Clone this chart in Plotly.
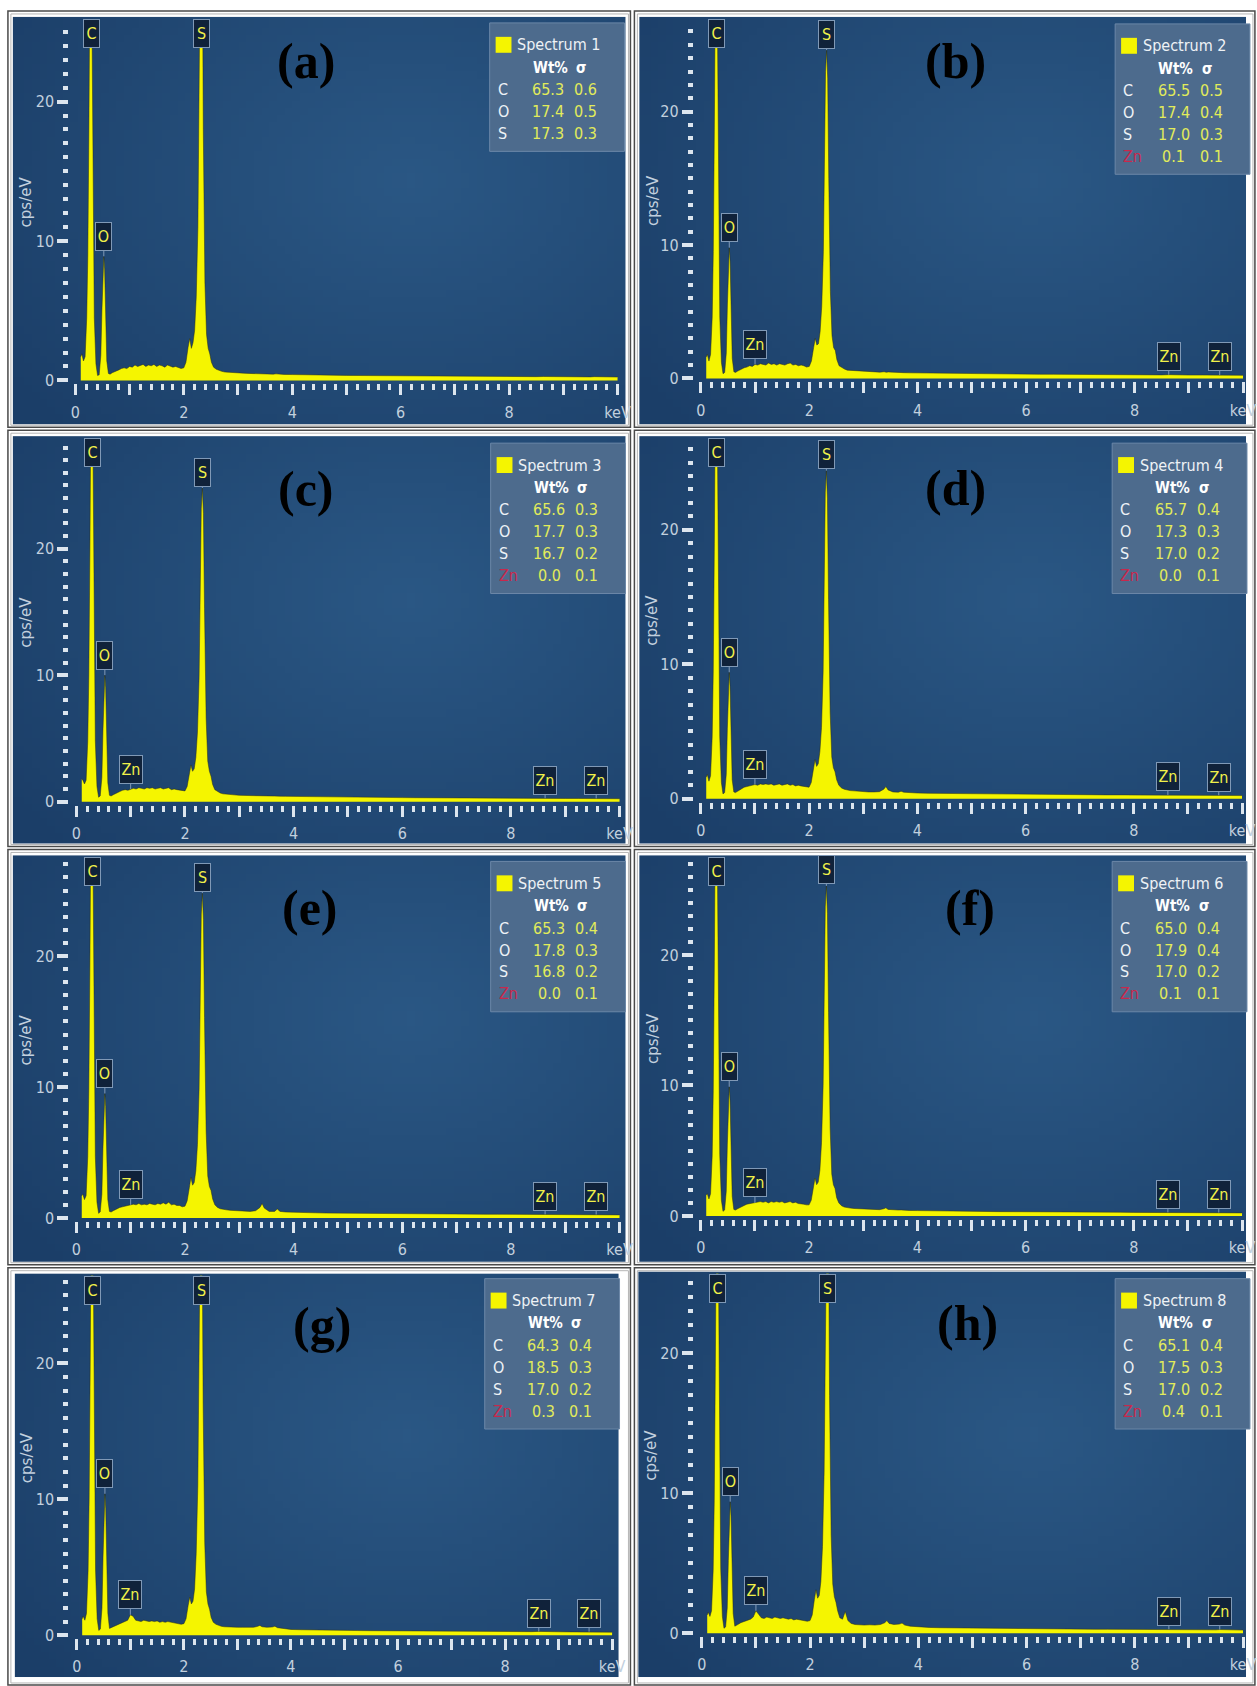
import base64, struct, zlib
import plotly.graph_objects as go

# ---------------------------------------------------------------- data
energy_keV = [
    0.10, 0.12, 0.15, 0.18, 0.21, 0.23, 0.25, 0.265, 0.28, 0.295,
    0.31, 0.33, 0.35, 0.38, 0.41, 0.44, 0.47, 0.49, 0.51, 0.525,
    0.54, 0.56, 0.58, 0.61, 0.64, 0.68, 0.72, 0.76, 0.80, 0.85,
    0.90, 0.95, 1.00, 1.05, 1.10, 1.15, 1.20, 1.25, 1.30, 1.35,
    1.40, 1.45, 1.50, 1.55, 1.60, 1.65, 1.70, 1.75, 1.80, 1.85,
    1.90, 1.95, 2.00, 2.04, 2.08, 2.11, 2.14, 2.17, 2.20, 2.23,
    2.26, 2.28, 2.30, 2.32, 2.34, 2.36, 2.39, 2.42, 2.45, 2.48,
    2.51, 2.55, 2.60, 2.65, 2.70, 2.76, 2.83, 2.90, 3.00, 3.10,
    3.20, 3.30, 3.38, 3.42, 3.46, 3.55, 3.65, 3.70, 3.75, 3.85,
    4.00, 4.20, 4.40, 4.60, 4.80, 5.00, 5.25, 5.50, 5.75, 6.00,
    6.25, 6.50, 6.75, 7.00, 7.25, 7.50, 7.75, 8.00, 8.25, 8.50,
    8.63, 8.75, 9.00, 9.25, 9.50, 9.57, 9.70, 9.85, 10.00,
]

counts_a = [
    1.7, 1.9, 1.4, 1.7, 4.5, 9.0, 18.0, 30.0, 36.0, 35.0,
    24.0, 12.0, 4.5, 1.2, 0.35, 0.40, 1.8, 5.0, 8.2, 8.9,
    8.0, 4.0, 1.4, 0.50, 0.45, 0.55, 0.60, 0.70, 0.75, 0.85,
    0.90, 0.85, 1.00, 0.95, 1.10, 1.00, 1.05, 1.15, 1.00, 1.10,
    1.05, 1.15, 1.00, 1.10, 1.05, 0.95, 1.10, 1.00, 0.95, 1.00,
    0.90, 0.85, 0.90, 1.30, 2.40, 3.00, 2.30, 2.70, 3.60, 6.0,
    11.0, 19.0, 32.0, 38.0, 33.0, 18.0, 7.0, 3.3, 2.3, 1.9,
    1.30, 0.95, 0.80, 0.70, 0.65, 0.60, 0.58, 0.55, 0.50, 0.52,
    0.50, 0.48, 0.50, 0.47, 0.50, 0.46, 0.45, 0.47, 0.44, 0.43,
    0.42, 0.40, 0.40, 0.38, 0.37, 0.36, 0.35, 0.34, 0.34, 0.33,
    0.32, 0.32, 0.31, 0.30, 0.30, 0.29, 0.29, 0.28, 0.28, 0.27,
    0.28, 0.27, 0.26, 0.26, 0.25, 0.27, 0.25, 0.24, 0.24,
]
counts_b = [
    1.6, 1.8, 1.3, 1.8, 4.6, 9.5, 19.0, 31.0, 37.0, 36.0,
    25.0, 12.5, 4.6, 1.2, 0.35, 0.45, 1.9, 5.5, 9.1, 9.8,
    8.8, 4.4, 1.5, 0.50, 0.45, 0.55, 0.65, 0.70, 0.80, 0.85,
    0.95, 0.90, 1.05, 1.00, 1.10, 1.05, 1.00, 1.15, 1.05, 1.10,
    1.00, 1.10, 1.05, 1.00, 1.10, 1.15, 1.00, 1.05, 0.95, 1.00,
    0.95, 0.85, 0.90, 1.30, 2.30, 3.00, 2.50, 2.60, 3.50, 5.4,
    9.5, 16.0, 23.0, 24.6, 22.5, 15.0, 6.5, 3.2, 2.3, 2.1,
    1.40, 0.95, 0.80, 0.70, 0.62, 0.60, 0.57, 0.55, 0.52, 0.50,
    0.50, 0.47, 0.50, 0.46, 0.48, 0.45, 0.46, 0.44, 0.43, 0.42,
    0.41, 0.40, 0.38, 0.37, 0.36, 0.35, 0.34, 0.34, 0.33, 0.32,
    0.31, 0.31, 0.30, 0.29, 0.29, 0.28, 0.28, 0.27, 0.27, 0.26,
    0.28, 0.26, 0.25, 0.25, 0.24, 0.26, 0.24, 0.23, 0.23,
]
counts_c = [
    1.8, 1.7, 1.4, 1.7, 4.8, 10.0, 20.0, 33.0, 39.0, 38.0,
    26.0, 13.0, 4.8, 1.2, 0.35, 0.45, 1.9, 5.6, 9.3, 10.0,
    9.0, 4.5, 1.5, 0.50, 0.45, 0.55, 0.65, 0.75, 0.80, 0.90,
    0.95, 0.90, 1.00, 1.05, 1.00, 1.10, 1.05, 1.00, 1.10, 1.05,
    1.10, 1.00, 1.05, 1.10, 1.00, 1.05, 1.10, 0.95, 1.00, 0.95,
    0.90, 0.85, 0.85, 1.20, 2.20, 2.90, 2.40, 2.60, 3.50, 5.5,
    9.8, 16.5, 23.2, 24.8, 22.8, 15.3, 6.6, 3.2, 2.4, 2.0,
    1.35, 0.95, 0.78, 0.68, 0.62, 0.58, 0.56, 0.54, 0.50, 0.50,
    0.48, 0.47, 0.49, 0.46, 0.47, 0.45, 0.44, 0.45, 0.43, 0.42,
    0.41, 0.39, 0.38, 0.37, 0.36, 0.35, 0.34, 0.33, 0.33, 0.32,
    0.31, 0.30, 0.30, 0.29, 0.29, 0.28, 0.28, 0.27, 0.27, 0.26,
    0.27, 0.26, 0.25, 0.25, 0.24, 0.26, 0.24, 0.23, 0.23,
]
counts_d = [
    1.6, 1.8, 1.3, 1.7, 4.6, 9.5, 19.0, 31.0, 37.0, 36.0,
    25.0, 12.5, 4.6, 1.2, 0.35, 0.45, 1.8, 5.2, 8.7, 9.4,
    8.4, 4.2, 1.4, 0.50, 0.45, 0.55, 0.65, 0.75, 0.85, 0.90,
    0.95, 1.00, 1.05, 1.00, 1.10, 1.05, 1.10, 1.05, 1.10, 1.00,
    1.05, 1.10, 1.00, 1.05, 1.10, 1.00, 1.05, 0.95, 1.00, 0.95,
    0.90, 0.85, 0.85, 1.20, 2.20, 2.90, 2.40, 2.60, 3.50, 5.3,
    9.4, 15.8, 22.8, 24.4, 22.3, 14.8, 6.4, 3.1, 2.3, 2.0,
    1.40, 1.00, 0.80, 0.70, 0.64, 0.60, 0.58, 0.55, 0.52, 0.50,
    0.50, 0.52, 0.70, 0.90, 0.65, 0.50, 0.48, 0.55, 0.48, 0.44,
    0.42, 0.40, 0.39, 0.38, 0.37, 0.35, 0.34, 0.33, 0.33, 0.32,
    0.31, 0.31, 0.30, 0.29, 0.29, 0.28, 0.28, 0.27, 0.27, 0.26,
    0.28, 0.26, 0.25, 0.25, 0.24, 0.26, 0.24, 0.23, 0.23,
]
counts_e = [
    1.7, 1.8, 1.4, 1.7, 4.7, 9.8, 19.5, 32.0, 38.0, 37.0,
    25.5, 12.8, 4.7, 1.2, 0.35, 0.45, 1.8, 5.3, 8.8, 9.5,
    8.5, 4.2, 1.4, 0.50, 0.45, 0.55, 0.65, 0.70, 0.80, 0.85,
    0.90, 0.95, 1.00, 1.05, 1.00, 1.10, 1.00, 1.05, 1.00, 1.10,
    1.05, 1.00, 1.10, 1.05, 1.15, 1.05, 1.20, 1.00, 1.05, 0.95,
    0.95, 0.85, 0.90, 1.30, 2.30, 3.10, 2.50, 2.70, 3.60, 5.6,
    9.8, 16.5, 23.2, 24.8, 22.8, 15.3, 6.6, 3.2, 2.4, 2.1,
    1.45, 1.00, 0.80, 0.70, 0.65, 0.62, 0.58, 0.56, 0.52, 0.50,
    0.50, 0.55, 0.80, 1.10, 0.75, 0.50, 0.50, 0.68, 0.50, 0.45,
    0.42, 0.40, 0.39, 0.37, 0.36, 0.35, 0.34, 0.33, 0.33, 0.32,
    0.31, 0.30, 0.30, 0.29, 0.29, 0.28, 0.28, 0.27, 0.27, 0.26,
    0.27, 0.26, 0.25, 0.25, 0.24, 0.26, 0.24, 0.23, 0.23,
]
counts_f = [
    1.6, 1.7, 1.3, 1.7, 4.6, 9.6, 19.5, 32.0, 38.0, 37.0,
    25.0, 12.6, 4.7, 1.2, 0.35, 0.45, 1.9, 5.5, 9.2, 9.9,
    8.9, 4.4, 1.5, 0.50, 0.45, 0.55, 0.65, 0.75, 0.80, 0.90,
    0.95, 1.00, 1.00, 1.05, 1.10, 1.05, 1.10, 1.00, 1.10, 1.05,
    1.10, 1.05, 1.10, 1.00, 1.05, 1.10, 1.00, 1.05, 0.95, 0.95,
    0.90, 0.85, 0.85, 1.20, 2.20, 2.90, 2.40, 2.60, 3.50, 5.6,
    10.0, 17.0, 23.7, 25.3, 23.2, 15.6, 6.7, 3.2, 2.4, 2.1,
    1.40, 1.00, 0.78, 0.68, 0.62, 0.60, 0.57, 0.55, 0.52, 0.50,
    0.48, 0.48, 0.55, 0.62, 0.50, 0.46, 0.45, 0.46, 0.43, 0.42,
    0.41, 0.39, 0.38, 0.37, 0.36, 0.35, 0.34, 0.33, 0.33, 0.32,
    0.31, 0.30, 0.30, 0.29, 0.29, 0.28, 0.28, 0.27, 0.27, 0.26,
    0.27, 0.26, 0.25, 0.25, 0.24, 0.26, 0.24, 0.23, 0.23,
]
counts_g = [
    1.2, 1.4, 1.1, 1.6, 4.7, 10.0, 20.0, 33.0, 39.0, 38.0,
    26.0, 13.0, 4.8, 1.2, 0.35, 0.45, 2.0, 5.8, 9.7, 10.4,
    9.3, 4.7, 1.6, 0.50, 0.55, 0.65, 0.70, 0.75, 0.85, 0.90,
    1.00, 1.10, 1.50, 1.40, 1.10, 1.05, 1.00, 1.10, 1.05, 1.00,
    1.05, 1.00, 1.05, 0.95, 1.00, 0.95, 1.00, 0.95, 0.90, 0.90,
    0.85, 0.80, 0.85, 1.20, 2.20, 2.80, 2.30, 2.50, 3.40, 6.0,
    11.0, 19.0, 31.0, 36.0, 31.0, 17.0, 6.8, 3.2, 2.3, 1.9,
    1.30, 0.95, 0.80, 0.70, 0.65, 0.62, 0.60, 0.60, 0.58, 0.58,
    0.56, 0.58, 0.65, 0.72, 0.62, 0.58, 0.60, 0.66, 0.55, 0.48,
    0.42, 0.40, 0.38, 0.37, 0.36, 0.35, 0.34, 0.33, 0.32, 0.32,
    0.31, 0.30, 0.30, 0.29, 0.28, 0.28, 0.27, 0.27, 0.26, 0.26,
    0.28, 0.26, 0.25, 0.24, 0.24, 0.26, 0.24, 0.23, 0.22,
]
counts_h = [
    1.3, 1.5, 1.2, 1.6, 4.5, 9.5, 19.0, 31.0, 37.0, 36.0,
    25.0, 12.5, 4.6, 1.2, 0.35, 0.45, 1.8, 5.2, 8.7, 9.4,
    8.4, 4.2, 1.4, 0.50, 0.55, 0.65, 0.75, 0.80, 0.85, 0.95,
    1.00, 1.15, 1.60, 1.35, 1.10, 1.05, 1.15, 1.10, 1.05, 1.15,
    1.10, 1.05, 1.10, 1.05, 1.00, 1.05, 0.95, 1.00, 0.95, 0.90,
    0.90, 0.85, 0.90, 1.30, 2.40, 3.10, 2.50, 2.70, 3.70, 6.2,
    11.5, 20.0, 31.0, 35.0, 30.0, 17.0, 7.0, 3.5, 2.6, 2.2,
    1.60, 1.10, 1.00, 1.55, 0.90, 0.70, 0.62, 0.60, 0.58, 0.60,
    0.58, 0.62, 0.75, 0.90, 0.70, 0.62, 0.65, 0.72, 0.58, 0.50,
    0.44, 0.41, 0.39, 0.38, 0.37, 0.35, 0.34, 0.33, 0.32, 0.32,
    0.31, 0.30, 0.30, 0.29, 0.28, 0.28, 0.27, 0.27, 0.26, 0.26,
    0.28, 0.26, 0.25, 0.24, 0.24, 0.26, 0.24, 0.23, 0.22,
]

panel_labels = ["(a)", "(b)", "(c)", "(d)", "(e)", "(f)", "(g)", "(h)"]
spectrum_names = ["Spectrum 1", "Spectrum 2", "Spectrum 3", "Spectrum 4",
                  "Spectrum 5", "Spectrum 6", "Spectrum 7", "Spectrum 8"]
wt_C = [65.3, 65.5, 65.6, 65.7, 65.3, 65.0, 64.3, 65.1]
sd_C = [0.6, 0.5, 0.3, 0.4, 0.4, 0.4, 0.4, 0.4]
wt_O = [17.4, 17.4, 17.7, 17.3, 17.8, 17.9, 18.5, 17.5]
sd_O = [0.5, 0.4, 0.3, 0.3, 0.3, 0.4, 0.3, 0.3]
wt_S = [17.3, 17.0, 16.7, 17.0, 16.8, 17.0, 17.0, 17.0]
sd_S = [0.3, 0.3, 0.2, 0.2, 0.2, 0.2, 0.2, 0.2]
wt_Zn = [None, 0.1, 0.0, 0.0, 0.0, 0.1, 0.3, 0.4]
sd_Zn = [None, 0.1, 0.1, 0.1, 0.1, 0.1, 0.1, 0.1]

line_C_keV = 0.29
line_O_keV = 0.525
line_S_keV = 2.32
lines_Zn_keV = [1.00, 8.63, 9.57]

x_tickvals = [0, 1, 2, 3, 4, 5, 6, 7, 8, 9, 10]
x_ticktext = ["0", "", "2", "", "4", "", "6", "", "8", "", "keV"]
y_tickvals = [0, 10, 20]

spectra = [counts_a, counts_b, counts_c, counts_d, counts_e, counts_f, counts_g, counts_h]
for s in spectra:
    assert len(s) == len(energy_keV)

# ---------------------------------------------------------------- layout geometry (pixels)
W, H = 1257, 1686
GEOM = [
    dict(x0=76, sx=54.7, y0=382, sy=14.0, top=19, left=70, right=628, blue=(13, 17, 631, 426), leg=(494, 23), letter=(309, 61)),
    dict(x0=707, sx=54.7, y0=380, sy=13.4, top=19, left=700, right=1257, blue=(645, 17, 1257, 426), leg=(1125, 24), letter=(964, 61)),
    dict(x0=77, sx=54.8, y0=805, sy=12.7, top=440, left=70, right=628, blue=(13, 438, 631, 847), leg=(495, 445), letter=(309, 491)),
    dict(x0=707, sx=54.6, y0=802, sy=13.5, top=440, left=700, right=1257, blue=(645, 438, 1257, 847), leg=(1122, 445), letter=(964, 490)),
    dict(x0=77, sx=54.8, y0=1223, sy=13.15, top=861, left=70, right=628, blue=(13, 859, 631, 1267), leg=(495, 865), letter=(313, 912)),
    dict(x0=707, sx=54.6, y0=1221, sy=13.1, top=861, left=700, right=1257, blue=(645, 859, 1257, 1267), leg=(1122, 865), letter=(979, 912)),
    dict(x0=77.5, sx=54.0, y0=1642, sy=13.65, top=1281, left=70, right=620, blue=(15, 1279, 624, 1684), leg=(489, 1284), letter=(325, 1331)),
    dict(x0=708, sx=54.6, y0=1640, sy=14.05, top=1279, left=700, right=1257, blue=(644, 1277, 1257, 1684), leg=(1125, 1284), letter=(976, 1329)),
]
ROWS = [(11, 429), (432, 850), (853, 1270), (1273, 1692)]
COLS = [(8, 636), (640, 1266)]

YELLOW = "#f5f500"
OUTLINE = "rgba(40,44,20,0.7)"
TICK_C = "#dce5ee"
LABEL_C = "#c2d0de"
NARROW = "Liberation Sans Narrow, DejaVu Sans Condensed, Arial Narrow, sans-serif"
BOX_BG = "#10223a"
BOX_LINE = "#8099b6"
PEAK_TXT = "#f0f04a"


def px(x):
    return x / W


def py(y):
    return 1 - y / H


# background gradient image (styling only)
def gradient_uri(w=80, h=56):
    edge = (27, 62, 104)
    mid = (42, 87, 132)
    raw = bytearray()
    for j in range(h):
        raw.append(0)
        v = j / (h - 1)
        for i in range(w):
            u = i / (w - 1)
            d = (((u - 0.65) / 0.8) ** 2 + ((v - 0.4) / 0.9) ** 2) ** 0.5
            t = min(1.0, d) ** 1.1
            raw += bytes(int(round(m * (1 - t) + e * t)) for m, e in zip(mid, edge))

    def chunk(tag, data):
        return (struct.pack(">I", len(data)) + tag + data
                + struct.pack(">I", zlib.crc32(tag + data) & 0xFFFFFFFF))

    png = (b"\x89PNG\r\n\x1a\n"
           + chunk(b"IHDR", struct.pack(">IIBBBBB", w, h, 8, 2, 0, 0, 0))
           + chunk(b"IDAT", zlib.compress(bytes(raw), 9))
           + chunk(b"IEND", b""))
    return "data:image/png;base64," + base64.b64encode(png).decode()


BG = gradient_uri()

fig = go.Figure()
shapes, annotations, images = [], [], []

# frames
for (rt, rb) in ROWS:
    for (cl, cr) in COLS:
        shapes.append(dict(type="rect", xref="paper", yref="paper", x0=px(cl), x1=px(cr),
                           y0=py(rb), y1=py(rt), line=dict(color="#4a4a4a", width=1.5),
                           fillcolor="rgba(0,0,0,0)", layer="below"))
        shapes.append(dict(type="rect", xref="paper", yref="paper", x0=px(cl + 3), x1=px(cr - 2),
                           y0=py(rb - 2), y1=py(rt + 3), line=dict(color="#b5b5b5", width=1),
                           fillcolor="rgba(0,0,0,0)", layer="below"))

idx_O = energy_keV.index(0.525)
idx_S = energy_keV.index(2.32)
idx_Zn = [energy_keV.index(e) for e in lines_Zn_keV]

for i, (counts, g) in enumerate(zip(spectra, GEOM)):
    n = i + 1
    xa = "x" if n == 1 else f"x{n}"
    ya = "y" if n == 1 else f"y{n}"
    bl, bt, br, bb = g["blue"]
    images.append(dict(source=BG, xref="paper", yref="paper", x=px(bl), y=py(bt),
                       sizex=(br - bl) / W, sizey=(bb - bt) / H, xanchor="left",
                       yanchor="top", sizing="stretch", layer="below"))

    fig.add_trace(go.Scatter(x=energy_keV, y=counts, mode="lines", fill="tozeroy",
                             fillcolor=YELLOW, line=dict(color=OUTLINE, width=0.7),
                             xaxis=xa, yaxis=ya, showlegend=False, hoverinfo="skip"))

    bottom = g["y0"] + 3
    xr = [(g["left"] - g["x0"]) / g["sx"], (g["right"] - g["x0"]) / g["sx"]]
    yr = [-(bottom - g["y0"]) / g["sy"], (g["y0"] - g["top"]) / g["sy"]]
    ax_common = dict(showgrid=False, zeroline=False, showline=False, fixedrange=True,
                     ticks="outside", tickcolor=TICK_C,
                     tickfont=dict(family=NARROW, size=16, color=LABEL_C))
    fig.update_layout(**{
        ("xaxis" if n == 1 else f"xaxis{n}"): dict(
            ax_common, domain=[px(g["left"]), px(g["right"])], range=xr, anchor=ya,
            tickmode="array", tickvals=x_tickvals, ticktext=x_ticktext,
            ticklen=11, tickwidth=2.5, ticklabelstandoff=3,
            minor=dict(tickmode="linear", tick0=0, dtick=0.2, ticks="outside",
                       ticklen=6, tickwidth=2.5, tickcolor=TICK_C)),
        ("yaxis" if n == 1 else f"yaxis{n}"): dict(
            ax_common, domain=[py(bottom), py(g["top"])], range=yr, anchor=xa,
            tickmode="array", tickvals=y_tickvals, ticklen=11, tickwidth=3.5,
            minor=dict(tickmode="linear", tick0=0, dtick=1, ticks="outside",
                       ticklen=5, tickwidth=3.5, tickcolor=TICK_C)),
    })

    # y title
    annotations.append(dict(text="cps/eV", textangle=-90, xref="paper", yref="paper",
                            x=px(bl + 13), y=py((g["top"] + g["y0"]) / 2 + 2),
                            xanchor="center", yanchor="middle", showarrow=False,
                            font=dict(family="DejaVu Sans, sans-serif", size=15, color=LABEL_C)))

    # peak labels
    def peak_box(text, x, y=None, top=False, ay=-20):
        d = dict(text=text, x=x, xref=xa, showarrow=not top,
                 font=dict(family=NARROW, size=16, color=PEAK_TXT),
                 bgcolor=BOX_BG, bordercolor=BOX_LINE, borderwidth=1, borderpad=1,
                 width=20 if text == "Zn" else 13, height=25)
        if top:
            d.update(y=1, yref=f"{ya} domain", yanchor="top")
        else:
            d.update(y=y, yref=ya, ax=0, ay=ay, arrowhead=0, arrowwidth=1,
                     arrowcolor=BOX_LINE, standoff=0)
        annotations.append(d)

    peak_box("C", line_C_keV, top=True)
    peak_box("O", line_O_keV, y=counts[idx_O])
    if counts[idx_S] > yr[1] - 1.0:
        peak_box("S", line_S_keV, top=True)
    else:
        peak_box("S", line_S_keV, y=counts[idx_S], ay=-16)
    if wt_Zn[i] is not None:
        for k, e in enumerate(lines_Zn_keV):
            peak_box("Zn", e, y=counts[idx_Zn[k]], ay=-20 if k == 0 else -18)

    # legend table
    L, T = g["leg"]
    rows = [("C", wt_C[i], sd_C[i]), ("O", wt_O[i], sd_O[i]), ("S", wt_S[i], sd_S[i])]
    if wt_Zn[i] is not None:
        rows.append(("Zn", wt_Zn[i], sd_Zn[i]))
    box_h = 63 + 22 * len(rows)
    shapes.append(dict(type="rect", xref="paper", yref="paper", x0=px(L), x1=px(L + 136),
                       y0=py(T + box_h), y1=py(T), fillcolor="#4d6b8d",
                       line=dict(color="#6c88a8", width=1), layer="above"))
    shapes.append(dict(type="rect", xref="paper", yref="paper", x0=px(L + 6), x1=px(L + 22),
                       y0=py(T + 30), y1=py(T + 14), fillcolor="#f5f500",
                       line=dict(width=0), layer="above"))
    annotations.append(dict(text=spectrum_names[i], xref="paper", yref="paper",
                            x=px(L + 26), y=py(T + 22), xanchor="left", yanchor="middle",
                            showarrow=False, font=dict(family=NARROW, size=16, color="#eef2f6")))
    annotations.append(dict(text="<b>Wt%</b>", xref="paper", yref="paper",
                            x=px(L + 61), y=py(T + 45), xanchor="center", yanchor="middle",
                            showarrow=False, font=dict(family=NARROW, size=15, color="#ffffff")))
    annotations.append(dict(text="<b>σ</b>", xref="paper", yref="paper",
                            x=px(L + 93), y=py(T + 45), xanchor="center", yanchor="middle",
                            showarrow=False, font=dict(family=NARROW, size=15, color="#ffffff")))
    for r, (el, wv, sv) in enumerate(rows):
        yy = py(T + 67 + 22 * r)
        annotations.append(dict(text=el, xref="paper", yref="paper", x=px(L + 6), y=yy,
                                xanchor="left", yanchor="middle", showarrow=False,
                                font=dict(family=NARROW, size=16,
                                          color="#c8284c" if el == "Zn" else "#eef2f6")))
        annotations.append(dict(text=f"{wv:.1f}", xref="paper", yref="paper", x=px(L + 59), y=yy,
                                xanchor="center", yanchor="middle", showarrow=False,
                                font=dict(family=NARROW, size=16, color="#e2ec5a")))
        annotations.append(dict(text=f"{sv:.1f}", xref="paper", yref="paper", x=px(L + 97), y=yy,
                                xanchor="center", yanchor="middle", showarrow=False,
                                font=dict(family=NARROW, size=16, color="#e2ec5a")))

    # panel letter
    lx, ly = g["letter"]
    annotations.append(dict(text=f"<b>{panel_labels[i]}</b>", xref="paper", yref="paper",
                            x=px(lx), y=py(ly), xanchor="center", yanchor="middle",
                            showarrow=False,
                            font=dict(family="Liberation Serif, Times New Roman, serif",
                                      size=50, color="#000000")))

fig.update_layout(width=W, height=H, margin=dict(l=0, r=0, t=0, b=0),
                  paper_bgcolor="#ffffff", plot_bgcolor="rgba(0,0,0,0)",
                  showlegend=False, shapes=shapes, annotations=annotations, images=images)

fig.write_html("out.html", config={"displayModeBar": False})
